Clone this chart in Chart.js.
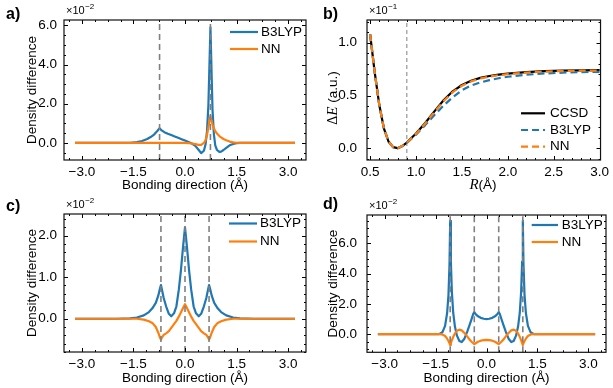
<!DOCTYPE html>
<html>
<head>
<meta charset="utf-8">
<title>Density difference panels</title>
<script src="https://cdn.jsdelivr.net/npm/chart.js@4.4.0/dist/chart.umd.min.js"></script>
<style>
  body { margin: 0; background: #fff; }
  #fig { position: relative; width: 613px; height: 388px; overflow: hidden; }
  .panel { position: absolute; }
</style>
</head>
<body>
<div id="fig">
  <div class="panel" style="left:0;top:0"><canvas id="chart-a" width="310" height="194"></canvas></div>
  <div class="panel" style="left:310px;top:0"><canvas id="chart-b" width="303" height="194"></canvas></div>
  <div class="panel" style="left:0;top:194px"><canvas id="chart-c" width="310" height="194"></canvas></div>
  <div class="panel" style="left:310px;top:194px"><canvas id="chart-d" width="303" height="194"></canvas></div>
</div>
<script>
// Colores (matplotlib por defecto)
const BLUE = '#1f77b4';
const ORANGE = '#ff7f0e';
const GREY = '#808080';

// Ticks comunes
const bondTicks = [-3.0, -1.5, 0.0, 1.5, 3.0];

// Panel a) densidad (x10^-2)
const xA = [-3.2, -2.0, -1.6, -1.4, -1.25, -1.1, -1.0, -0.9, -0.8, -0.74, -0.68, -0.6, -0.5, -0.4, -0.3, -0.2, -0.1, 0.0, 0.1, 0.2, 0.3, 0.4, 0.47, 0.55, 0.6, 0.64, 0.68, 0.71, 0.74, 0.77, 0.8, 0.84, 0.88, 0.93, 1.0, 1.05, 1.12, 1.2, 1.3, 1.4, 1.5, 1.6, 2.0, 3.2];
const b3lypA = [0, 0, 0.01, 0.04, 0.1, 0.2, 0.3, 0.43, 0.62, 0.75, 0.64, 0.55, 0.47, 0.4, 0.33, 0.26, 0.19, 0.12, 0.05, -0.03, -0.15, -0.36, -0.52, -0.4, -0.05, 0.6, 1.9, 3.9, 5.9, 3.8, 1.7, 0.45, -0.12, -0.36, -0.46, -0.44, -0.36, -0.25, -0.12, -0.05, -0.01, 0, 0, 0];
const nnA = [0, 0, 0, 0, 0, 0, 0, 0, 0, 0, 0, 0, 0, 0, 0, 0, 0, 0, -0.01, -0.03, -0.06, -0.1, -0.1, 0.0, 0.15, 0.4, 0.8, 1.1, 1.38, 1.15, 0.95, 0.75, 0.6, 0.48, 0.35, 0.28, 0.2, 0.14, 0.07, 0.03, 0.01, 0, 0, 0];
const bondsA = [-0.74, 0.74];
const yTicksA = [0.0, 2.0, 4.0, 6.0];

// Panel b) curva de energia (x10^-1)
const xB = [0.5, 0.55, 0.6, 0.65, 0.7, 0.75, 0.8, 0.85, 0.9, 1.0, 1.1, 1.2, 1.3, 1.4, 1.5, 1.6, 1.7, 1.8, 1.9, 2.0, 2.2, 2.4, 2.6, 2.8, 3.0];
const ccsdB = [1.08, 0.72, 0.41, 0.19, 0.065, 0.012, 0.002, 0.022, 0.055, 0.14, 0.24, 0.35, 0.455, 0.54, 0.6, 0.64, 0.667, 0.685, 0.698, 0.708, 0.722, 0.731, 0.736, 0.739, 0.741];
const b3lypB = [1.08, 0.72, 0.41, 0.19, 0.065, 0.012, 0.002, 0.02, 0.05, 0.13, 0.22, 0.315, 0.405, 0.485, 0.55, 0.595, 0.624, 0.646, 0.664, 0.678, 0.697, 0.709, 0.717, 0.722, 0.725];
const nnB = [1.08, 0.72, 0.41, 0.19, 0.065, 0.012, 0.002, 0.022, 0.054, 0.137, 0.235, 0.344, 0.447, 0.532, 0.593, 0.634, 0.661, 0.68, 0.693, 0.703, 0.717, 0.727, 0.732, 0.735, 0.737];
const markB = [0.9];
const xTicksB = [0.5, 1.0, 1.5, 2.0, 2.5, 3.0];
const yTicksB = [0.0, 0.5, 1.0];

// Panel c) densidad (x10^-2)
const xC = [-3.2, -2.0, -1.6, -1.4, -1.2, -1.05, -0.95, -0.85, -0.78, -0.73, -0.7, -0.67, -0.62, -0.55, -0.47, -0.4, -0.32, -0.25, -0.18, -0.12, -0.06, 0, 0.06, 0.12, 0.18, 0.25, 0.32, 0.4, 0.47, 0.55, 0.62, 0.67, 0.7, 0.73, 0.78, 0.85, 0.95, 1.05, 1.2, 1.4, 1.6, 2.0, 3.2];
const b3lypC = [0, 0, 0.01, 0.03, 0.08, 0.16, 0.25, 0.38, 0.55, 0.72, 0.81, 0.7, 0.5, 0.3, 0.12, 0.06, 0.13, 0.3, 0.7, 1.15, 1.7, 2.2, 1.7, 1.15, 0.7, 0.3, 0.13, 0.06, 0.12, 0.3, 0.5, 0.7, 0.81, 0.72, 0.55, 0.38, 0.25, 0.16, 0.08, 0.03, 0.01, 0, 0];
const nnC = [0, 0, 0, 0, -0.02, -0.06, -0.1, -0.2, -0.33, -0.45, -0.5, -0.45, -0.39, -0.35, -0.3, -0.22, -0.13, -0.05, 0.05, 0.15, 0.25, 0.35, 0.25, 0.15, 0.05, -0.05, -0.13, -0.22, -0.3, -0.35, -0.39, -0.45, -0.5, -0.45, -0.33, -0.2, -0.1, -0.06, -0.02, 0, 0, 0, 0];
const bondsC = [-0.7, 0.0, 0.7];
const yTicksC = [0.0, 1.0, 2.0];

// Panel d) densidad (x10^-2)
const xD = [-3.2, -2.0, -1.6, -1.4, -1.3, -1.22, -1.16, -1.12, -1.09, -1.07, -1.05, -1.02, -0.98, -0.93, -0.87, -0.8, -0.73, -0.65, -0.57, -0.5, -0.44, -0.39, -0.36, -0.32, -0.25, -0.17, -0.08, 0, 0.08, 0.17, 0.25, 0.32, 0.36, 0.39, 0.44, 0.5, 0.57, 0.65, 0.73, 0.8, 0.87, 0.93, 0.98, 1.02, 1.05, 1.07, 1.09, 1.12, 1.16, 1.22, 1.3, 1.4, 1.6, 2.0, 3.2];
const b3lypD = [0, 0, 0, 0, 0.12, 0.55, 1.4, 2.6, 4.6, 7.5, 4.8, 2.8, 1.4, 0.5, -0.1, -0.45, -0.52, -0.3, 0.15, 0.6, 1.0, 1.35, 1.45, 1.32, 1.18, 1.08, 1.02, 1.0, 1.02, 1.08, 1.18, 1.32, 1.45, 1.35, 1.0, 0.6, 0.15, -0.3, -0.52, -0.45, -0.1, 0.5, 1.4, 2.8, 4.8, 7.5, 4.6, 2.6, 1.4, 0.55, 0.12, 0, 0, 0, 0];
const nnD = [0, 0, 0, 0, -0.02, -0.12, -0.3, -0.45, -0.6, -0.72, -0.6, -0.4, -0.18, 0.05, 0.22, 0.3, 0.25, 0.08, -0.15, -0.35, -0.5, -0.6, -0.66, -0.6, -0.5, -0.43, -0.39, -0.38, -0.39, -0.43, -0.5, -0.6, -0.66, -0.6, -0.5, -0.35, -0.15, 0.08, 0.25, 0.3, 0.22, 0.05, -0.18, -0.4, -0.6, -0.72, -0.6, -0.45, -0.3, -0.12, -0.02, 0, 0, 0, 0];
const bondsD = [-1.07, -0.36, 0.36, 1.07];
const yTicksD = [0.0, 2.0, 4.0, 6.0];

Chart.defaults.font.family = '"Liberation Sans", Arial, Helvetica, sans-serif';
Chart.defaults.font.size = 13.5;
Chart.defaults.color = '#000';

const SANS = '"Liberation Sans", Arial, Helvetica, sans-serif';
const SERIF = '"Liberation Serif", "DejaVu Serif", serif';

// Formato de ticks con signo menos tipografico
const fmt = v => (v < 0 ? '\u2212' : '') + Math.abs(v).toFixed(1);

function curve(label, xs, ys, color, extra) {
    return Object.assign({
        label: label,
        data: xs.map((x, i) => ({ x: x, y: ys[i] })),
        borderColor: color,
        borderWidth: 2.2,
        borderJoinStyle: 'round',
        pointRadius: 0,
        tension: 0,
        fill: false
    }, extra || {});
}

function vline(x, yMin, yMax, width, dash) {
    return {
        label: '',
        data: [{ x: x, y: yMin }, { x: x, y: yMax }],
        borderColor: GREY,
        borderWidth: width,
        borderDash: dash,
        pointRadius: 0,
        order: 0
    };
}

// Marco, ticks hacia dentro, leyenda y textos extra
function makeDecor(p) {
    return {
        id: 'decor',
        afterDraw(chart) {
            const ctx = chart.ctx;
            const a = chart.chartArea;
            const sx = chart.scales.x, sy = chart.scales.y;
            ctx.save();

            // ticks
            ctx.strokeStyle = '#000';
            ctx.lineWidth = 1;
            ctx.beginPath();
            const hTicks = (vals, len) => vals.forEach(v => {
                const px = Math.round(sx.getPixelForValue(v)) + 0.5;
                ctx.moveTo(px, a.bottom); ctx.lineTo(px, a.bottom - len);
                ctx.moveTo(px, a.top); ctx.lineTo(px, a.top + len);
            });
            const vTicks = (vals, len) => vals.forEach(v => {
                const py = Math.round(sy.getPixelForValue(v)) + 0.5;
                ctx.moveTo(a.left, py); ctx.lineTo(a.left + len, py);
                ctx.moveTo(a.right, py); ctx.lineTo(a.right - len, py);
            });
            const minors = (min, max, step) => {
                const out = [];
                for (let v = Math.ceil(min / step - 1e-9) * step; v <= max + 1e-9; v += step) out.push(v);
                return out;
            };
            hTicks(minors(sx.min, sx.max, p.xMinor), 2);
            vTicks(minors(sy.min, sy.max, p.yMinor), 2);
            hTicks(p.xTicks, 4);
            vTicks(p.yTicks, 4);
            ctx.stroke();

            // marco
            ctx.strokeStyle = '#111';
            ctx.lineWidth = 1.2;
            ctx.strokeRect(a.left, a.top, a.right - a.left, a.bottom - a.top);

            // leyenda
            ctx.font = '13.5px ' + SANS;
            ctx.textBaseline = 'middle';
            ctx.textAlign = 'left';
            p.legend.items.forEach((ds, i) => {
                const y = (p.legend.fromBottom ? a.bottom : a.top) + p.legend.rows[i];
                ctx.strokeStyle = ds.borderColor;
                ctx.lineWidth = 2.2;
                ctx.setLineDash(ds.borderDash || []);
                ctx.beginPath();
                ctx.moveTo(a.right + p.legend.x0, y);
                ctx.lineTo(a.right + p.legend.x1, y);
                ctx.stroke();
                ctx.setLineDash([]);
                ctx.fillStyle = '#000';
                ctx.fillText(ds.label, a.right + p.legend.tx, y);
            });

            // etiqueta del panel
            ctx.font = 'bold 16px ' + SANS;
            ctx.fillText(p.tag.text, p.tag.x, p.tag.y);

            // factor de escala
            ctx.font = '11px ' + SANS;
            const ex = a.left + 2, ey = a.top - 9.5;
            ctx.fillText('\u00d710', ex, ey);
            const w = ctx.measureText('\u00d710').width;
            ctx.font = '8px ' + SANS;
            ctx.fillText(p.exponent, ex + w + 0.5, ey - 3.5);

            // titulos con cursiva (panel b)
            if (p.mathTitles) {
                const parts = (list) => {
                    let total = 0;
                    list.forEach(s => { ctx.font = s[1]; total += ctx.measureText(s[0]).width; });
                    let x = -total / 2;
                    list.forEach(s => { ctx.font = s[1]; ctx.fillText(s[0], x, 0); x += ctx.measureText(s[0]).width; });
                };
                ctx.textAlign = 'left';
                ctx.save();
                ctx.translate(p.mathTitles.xPos[0], p.mathTitles.xPos[1]);
                parts([['R', 'italic 15px ' + SERIF], ['(\u00c5)', '13.5px ' + SANS]]);
                ctx.restore();
                ctx.save();
                ctx.translate(p.mathTitles.yPos[0], p.mathTitles.yPos[1]);
                ctx.rotate(-Math.PI / 2);
                parts([['\u0394', '14px ' + SERIF], ['E', 'italic 15px ' + SERIF], [' (a.u.)', '13.5px ' + SANS]]);
                ctx.restore();
            }
            ctx.restore();
        }
    };
}

function makePanel(id, p) {
    const axisTitle = (text, pad) => text
        ? { display: true, text: text, padding: pad, font: { size: 13.5 }, color: '#000' }
        : { display: false };
    return new Chart(document.getElementById(id), {
        type: 'line',
        data: { datasets: p.datasets },
        options: {
            responsive: false,
            animation: false,
            events: [],
            layout: { padding: { top: p.box.top, right: p.box.right, left: 0, bottom: 0 } },
            plugins: { legend: { display: false }, tooltip: { enabled: false } },
            scales: {
                x: {
                    type: 'linear',
                    min: p.xMin,
                    max: p.xMax,
                    grid: { display: false, drawTicks: false },
                    border: { display: false },
                    afterBuildTicks: s => { s.ticks = p.xTicks.map(v => ({ value: v })); },
                    afterFit: s => { s.height = p.box.xHeight; },
                    ticks: { padding: 4, autoSkip: false, maxRotation: 0, callback: fmt },
                    title: axisTitle(p.xTitle, { top: 0, bottom: p.box.xTitlePad })
                },
                y: {
                    type: 'linear',
                    min: p.yMin,
                    max: p.yMax,
                    grid: { display: false, drawTicks: false },
                    border: { display: false },
                    afterBuildTicks: s => { s.ticks = p.yTicks.map(v => ({ value: v })); },
                    afterFit: s => { s.width = p.box.yWidth; },
                    ticks: { padding: p.box.yTickPad, autoSkip: false, callback: fmt },
                    title: axisTitle(p.yTitle, { top: p.box.yTitlePad, bottom: 0 })
                }
            }
        },
        plugins: [makeDecor(p)]
    });
}

// --- Panel a ---
const yMinA = -0.87, yMaxA = 6.27;
const dsA = [curve('B3LYP', xA, b3lypA, BLUE, { order: 2 }), curve('NN', xA, nnA, ORANGE, { order: 1 })];
makePanel('chart-a', {
    datasets: dsA.concat(bondsA.map(b => vline(b, yMinA, yMaxA, 1.6, [6, 4]))),
    xMin: -3.52, xMax: 3.52, yMin: yMinA, yMax: yMaxA,
    xTicks: bondTicks, yTicks: yTicksA, xMinor: 0.375, yMinor: 0.5,
    xTitle: 'Bonding direction (\u00c5)', yTitle: 'Density difference',
    box: { top: 20, right: 4, xHeight: 34, yWidth: 64, yTickPad: 7, yTitlePad: 24, xTitlePad: 1 },
    legend: { items: dsA, rows: [12, 29], x0: -76, x1: -48, tx: -45 },
    tag: { text: 'a)', x: 6, y: 15 },
    exponent: '\u22122'
});

// --- Panel b ---
const yMinB = -0.11, yMaxB = 1.215;
const dsB = [
    curve('CCSD', xB, ccsdB, '#000', { order: 3 }),
    curve('B3LYP', xB, b3lypB, BLUE, { order: 2, borderDash: [7, 4] }),
    curve('NN', xB, nnB, ORANGE, { order: 1, borderDash: [7, 4] })
];
makePanel('chart-b', {
    datasets: dsB.concat(markB.map(b => vline(b, yMinB, yMaxB, 1, [4, 3]))),
    xMin: 0.466, xMax: 3.01, yMin: yMinB, yMax: yMaxB,
    xTicks: xTicksB, yTicks: yTicksB, xMinor: 0.1, yMinor: 0.1,
    xTitle: '', yTitle: '',
    mathTitles: { xPos: [173, 185], yPos: [23, 98] },
    box: { top: 20, right: 0.7, xHeight: 34, yWidth: 57, yTickPad: 10, yTitlePad: 0, xTitlePad: 0 },
    legend: { items: dsB, rows: [-46.7, -30, -13.3], fromBottom: true, x0: -79.5, x1: -55.5, tx: -50.5 },
    tag: { text: 'b)', x: 13, y: 15 },
    exponent: '\u22121'
});

// --- Panel c ---
const yMinC = -0.8, yMaxC = 2.52;
const dsC = [curve('B3LYP', xC, b3lypC, BLUE, { order: 2 }), curve('NN', xC, nnC, ORANGE, { order: 1 })];
makePanel('chart-c', {
    datasets: dsC.concat(bondsC.map(b => vline(b, yMinC, yMaxC, 1.6, [6, 4]))),
    xMin: -3.52, xMax: 3.52, yMin: yMinC, yMax: yMaxC,
    xTicks: bondTicks, yTicks: yTicksC, xMinor: 0.375, yMinor: 0.2,
    xTitle: 'Bonding direction (\u00c5)', yTitle: 'Density difference',
    box: { top: 20, right: 4, xHeight: 36, yWidth: 64, yTickPad: 7, yTitlePad: 24, xTitlePad: 1.6 },
    legend: { items: dsC, rows: [9.5, 27.5], x0: -77, x1: -49, tx: -46 },
    tag: { text: 'c)', x: 6, y: 13 },
    exponent: '\u22122'
});

// --- Panel d ---
const yMinD = -1.2, yMaxD = 7.88;
const dsD = [curve('B3LYP', xD, b3lypD, BLUE, { order: 2 }), curve('NN', xD, nnD, ORANGE, { order: 1 })];
makePanel('chart-d', {
    datasets: dsD.concat(bondsD.map(b => vline(b, yMinD, yMaxD, 1.6, [6, 4]))),
    xMin: -3.52, xMax: 3.52, yMin: yMinD, yMax: yMaxD,
    xTicks: bondTicks, yTicks: yTicksD, xMinor: 0.375, yMinor: 0.5,
    xTitle: 'Bonding direction (\u00c5)', yTitle: 'Density difference',
    box: { top: 21, right: 7, xHeight: 35.7, yWidth: 57, yTickPad: 10, yTitlePad: 15.2, xTitlePad: 1.6 },
    legend: { items: dsD, rows: [10, 27], x0: -74.3, x1: -48, tx: -44.3 },
    tag: { text: 'd)', x: 13, y: 11 },
    exponent: '\u22122'
});
</script>
</body>
</html>
